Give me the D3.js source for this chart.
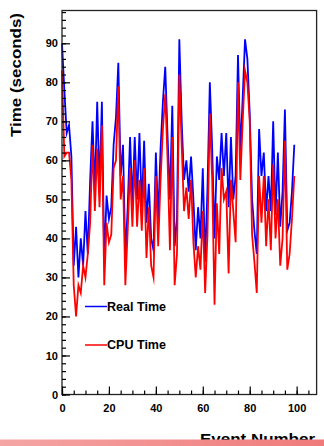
<!DOCTYPE html>
<html><head><meta charset="utf-8">
<script src="https://cdn.jsdelivr.net/npm/d3@7"></script>
<style>html,body{margin:0;padding:0;background:#fff;overflow:hidden}</style>
</head><body>
<svg id="c" width="324" height="446"></svg>
<script>
// Event-by-event timings (event number = array index)
const realTime = [
  90, 78, 67, 69, 61, 33, 43, 30, 40, 33,
  47, 36, 55, 70, 52, 75, 53, 75, 34, 51,
  45, 48, 64, 71, 85, 56, 64, 35, 48, 66,
  49, 66, 50, 67, 48, 65, 44, 54, 40, 37,
  62, 45, 63, 75, 84, 66, 50, 74, 38, 45,
  91, 70, 55, 60, 52, 61, 50, 37, 48, 40,
  58, 34, 53, 80, 63, 40, 61, 55, 67, 56,
  67, 48, 66, 50, 56, 87, 62, 76, 91, 86,
  72, 50, 42, 36, 68, 56, 62, 47, 56, 47,
  70, 46, 62, 43, 52, 73, 42, 44, 52, 64
];
const cpuTime = [
  83, 61, 62, 62, 55, 28, 20, 28, 26, 33,
  30, 36, 44, 64, 47, 63, 48, 69, 28, 44,
  39, 41, 58, 60, 79, 50, 56, 28, 42, 58,
  43, 60, 43, 55, 42, 58, 35, 48, 33, 30,
  56, 38, 55, 68, 77, 60, 37, 66, 28, 36,
  82, 64, 47, 53, 45, 55, 39, 30, 38, 32,
  47, 26, 41, 72, 55, 23, 49, 36, 58, 50,
  52, 31, 55, 47, 39, 80, 55, 70, 83, 80,
  70, 41, 34, 26, 56, 44, 56, 38, 50, 37,
  59, 40, 50, 33, 40, 65, 32, 36, 45, 56
];
const xTickLabels = [0, 20, 40, 60, 80, 100];
const yTickLabels = [0, 10, 20, 30, 40, 50, 60, 70, 80, 90];
const seriesNames = ["Real Time", "CPU Time"];
const seriesColors = ["#0000ff", "#ff0000"];
const xTitle = "Event Number";
const yTitle = "Time (seconds)";

const svg = d3.select("#c");
const L = 62, R = 316.6, T = 10.5, B = 394.5;
const x = d3.scaleLinear().domain([0, 108.5]).range([L, R]);
const y = d3.scaleLinear().domain([0, 98.4]).range([B, T]);
const FONT = "'Liberation Sans', Arial, sans-serif";

// series lines
const line = d3.line().x((d, i) => x(i)).y(d => y(d));
[realTime, cpuTime].forEach((s, k) => {
  svg.append("path").datum(s).attr("d", line)
    .attr("fill", "none").attr("stroke", seriesColors[k])
    .attr("stroke-width", 1.8).attr("stroke-linejoin", "miter").attr("stroke-miterlimit", 10);
});

// frame
svg.append("rect").attr("x", L).attr("y", T).attr("width", R - L).attr("height", B - T)
  .attr("fill", "none").attr("stroke", "#222").attr("stroke-width", 1.3);

// y axis
const yMinor = d3.range(0, 99, 2);
svg.append("g").attr("transform", `translate(${L},0)`)
  .call(d3.axisLeft(y).tickValues(yMinor).tickSizeInner(-4).tickSizeOuter(0).tickFormat(""))
  .call(g => g.select(".domain").remove())
  .call(g => g.selectAll("line").attr("stroke", "#000").attr("stroke-width", 1.2));
svg.append("g").attr("transform", `translate(${L},0)`)
  .call(d3.axisLeft(y).tickValues(yTickLabels).tickSizeInner(-8).tickSizeOuter(0).tickPadding(4))
  .call(g => g.select(".domain").remove())
  .call(g => g.selectAll("line").attr("stroke", "#000").attr("stroke-width", 1.2))
  .call(g => g.selectAll("text").attr("font-family", FONT).attr("font-weight", "bold")
    .attr("font-size", 11).attr("fill", "#000"));

// x axis
const xMinor = d3.range(0, 108, 5);
svg.append("g").attr("transform", `translate(0,${B})`)
  .call(d3.axisBottom(x).tickValues(xMinor).tickSizeInner(-4).tickSizeOuter(0).tickFormat(""))
  .call(g => g.select(".domain").remove())
  .call(g => g.selectAll("line").attr("stroke", "#000").attr("stroke-width", 1.2));
svg.append("g").attr("transform", `translate(0,${B})`)
  .call(d3.axisBottom(x).tickValues(xTickLabels).tickSizeInner(-8).tickSizeOuter(0).tickPadding(10))
  .call(g => g.select(".domain").remove())
  .call(g => g.selectAll("line").attr("stroke", "#000").attr("stroke-width", 1.2))
  .call(g => g.selectAll("text").attr("font-family", FONT).attr("font-weight", "bold")
    .attr("font-size", 11).attr("fill", "#000"));

// y title
svg.append("text").attr("transform", "translate(21,75) rotate(-90)")
  .attr("text-anchor", "middle").attr("font-family", FONT).attr("font-weight", "bold")
  .attr("font-size", 15).attr("textLength", 124).attr("lengthAdjust", "spacingAndGlyphs")
  .text(yTitle);

// x title
svg.append("text").attr("x", 315).attr("y", 444).attr("text-anchor", "end")
  .attr("font-family", FONT).attr("font-weight", "bold").attr("font-size", 15)
  .attr("textLength", 115).attr("lengthAdjust", "spacingAndGlyphs")
  .text(xTitle);

// legend
const legY = [306.5, 345];
seriesNames.forEach((n, k) => {
  svg.append("line").attr("x1", 85).attr("x2", 107).attr("y1", legY[k]).attr("y2", legY[k])
    .attr("stroke", seriesColors[k]).attr("stroke-width", 1.5);
  svg.append("text").attr("x", 107).attr("y", legY[k] + 4.3)
    .attr("font-family", FONT).attr("font-weight", "bold").attr("font-size", 12.5)
    .attr("textLength", 59).attr("lengthAdjust", "spacingAndGlyphs").text(n);
});

// pink band at the bottom
const defs = svg.append("defs");
const grad = defs.append("linearGradient").attr("id", "band").attr("x1", "0").attr("x2", "1");
grad.append("stop").attr("offset", "0").attr("stop-color", "#f5a5a5");
grad.append("stop").attr("offset", "1").attr("stop-color", "#f07a7a");
svg.append("rect").attr("x", 0).attr("y", 439.5).attr("width", 324).attr("height", 7)
  .attr("fill", "url(#band)");
</script>
</body></html>
